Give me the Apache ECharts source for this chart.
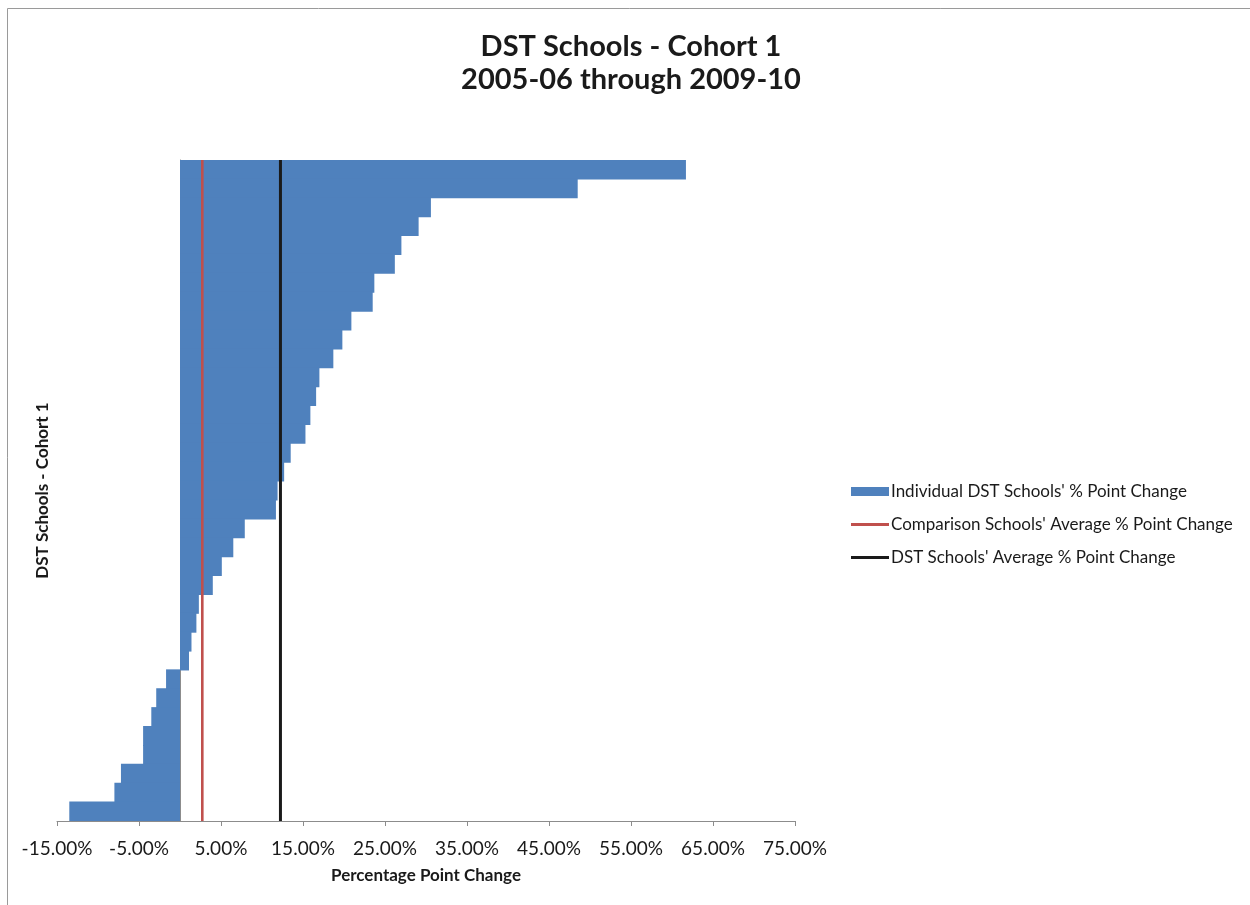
<!DOCTYPE html>
<html>
<head>
<meta charset="utf-8">
<title>DST Schools - Cohort 1</title>
<script src="https://cdn.jsdelivr.net/npm/echarts@6/dist/echarts.min.js"></script>
<style>
  html, body { margin: 0; padding: 0; background: #fff; }
  #chart { width: 1250px; height: 905px; }
</style>
</head>
<body>
<div id="chart"></div>
<script>
// Percentage point change per school, sorted from largest gain to largest drop
const pointChange = [
  61.7, 48.5, 30.6, 29.1, 27.0, 26.2, 23.7, 23.5, 20.9, 19.8,
  18.7, 17.0, 16.6, 15.9, 15.3, 13.5, 12.7, 11.9, 11.7, 7.9,
  6.5, 5.1, 4.0, 2.3, 2.0, 1.4, 1.1, -1.7, -2.9, -3.5,
  -4.5, -4.5, -7.2, -8.0, -13.5
];
// One category per school (labels are not displayed)
const schools = pointChange.map((_, i) => 'School ' + (i + 1));

// Average changes drawn as vertical reference lines
const comparisonAverage = 2.72;
const dstAverage = 12.25;

// Value axis range and step
const xMin = -15;
const xMax = 75;
const xStep = 10;

const seriesNames = [
  "Individual DST Schools' % Point Change",
  "Comparison Schools' Average % Point Change",
  "DST Schools' Average % Point Change"
];

const FONT = 'Lato, "Open Sans", sans-serif';
const BAR_BLUE = '#4f81bd';
const AVG_RED = '#c0504d';
const AVG_BLACK = '#1a1a1a';

// Thin horizontal stroke used as the legend key for the reference lines
const LINE_KEY = 'path://M0 0M0 9M0 3H38V6H0Z';

const chart = echarts.init(document.getElementById('chart'), null, { renderer: 'canvas' });

chart.setOption({
  backgroundColor: '#ffffff',
  animation: false,
  textStyle: { fontFamily: FONT },
  graphic: [{
    type: 'rect',
    shape: { x: 7.5, y: 8.5, width: 1400, height: 1000 },
    style: { fill: 'none', stroke: '#9a9a9a', lineWidth: 1 },
    silent: true,
    z: -10
  }],
  title: {
    text: 'DST Schools - Cohort 1\n2005-06 through 2009-10',
    left: 626,
    top: 25,
    textAlign: 'center',
    textStyle: {
      fontFamily: FONT,
      fontSize: 29,
      fontWeight: 'bold',
      color: AVG_BLACK,
      lineHeight: 33
    }
  },
  legend: {
    orient: 'vertical',
    left: 846,
    top: 478,
    itemWidth: 38,
    itemHeight: 9,
    itemGap: 16,
    selectedMode: false,
    data: [
      { name: seriesNames[0], icon: 'rect' },
      { name: seriesNames[1], icon: LINE_KEY },
      { name: seriesNames[2], icon: LINE_KEY }
    ],
    textStyle: { fontFamily: FONT, fontSize: 17, color: AVG_BLACK, padding: [0, 0, 0, -3] }
  },
  grid: {
    left: 57,
    right: 455,
    top: 160,
    bottom: 84,
    containLabel: false,
    outerBoundsMode: 'none'
  },
  xAxis: {
    type: 'value',
    min: xMin,
    max: xMax,
    interval: xStep,
    name: 'Percentage Point Change',
    nameLocation: 'middle',
    nameGap: 46,
    nameTextStyle: { fontFamily: FONT, fontSize: 17, fontWeight: 'bold', color: AVG_BLACK },
    axisLine: { show: true, lineStyle: { color: '#8c8c8c', width: 1 } },
    axisTick: { show: true, length: 5, lineStyle: { color: '#8c8c8c' } },
    axisLabel: {
      formatter: v => v.toFixed(2) + '%',
      fontFamily: FONT,
      fontSize: 19,
      color: AVG_BLACK,
      margin: 18
    },
    splitLine: { show: false }
  },
  yAxis: [{
    type: 'category',
    data: schools,
    inverse: true,
    name: 'DST Schools - Cohort 1',
    nameLocation: 'middle',
    nameRotate: 90,
    nameGap: 6,
    nameTextStyle: { fontFamily: FONT, fontSize: 17, fontWeight: 'bold', color: AVG_BLACK },
    axisLine: { show: true, onZero: true, lineStyle: { color: '#8c8c8c', width: 1 } },
    axisTick: { show: false },
    axisLabel: { show: false },
    splitLine: { show: false }
  }, {
    type: 'value',
    min: 0,
    max: 1,
    show: false
  }],
  series: [{
    name: seriesNames[0],
    type: 'bar',
    data: pointChange,
    // slightly wider than the category band so neighbouring bars merge without seams
    barWidth: 20,
    itemStyle: { color: BAR_BLUE },
    z: 2
  }, {
    name: seriesNames[1],
    type: 'line',
    yAxisIndex: 1,
    data: [[comparisonAverage, 0], [comparisonAverage, 1]],
    symbol: 'none',
    lineStyle: { color: AVG_RED, width: 2.6 },
    itemStyle: { color: AVG_RED },
    z: 3
  }, {
    name: seriesNames[2],
    type: 'line',
    yAxisIndex: 1,
    data: [[dstAverage, 0], [dstAverage, 1]],
    symbol: 'none',
    lineStyle: { color: AVG_BLACK, width: 3 },
    itemStyle: { color: AVG_BLACK },
    z: 4
  }]
});
</script>
</body>
</html>
